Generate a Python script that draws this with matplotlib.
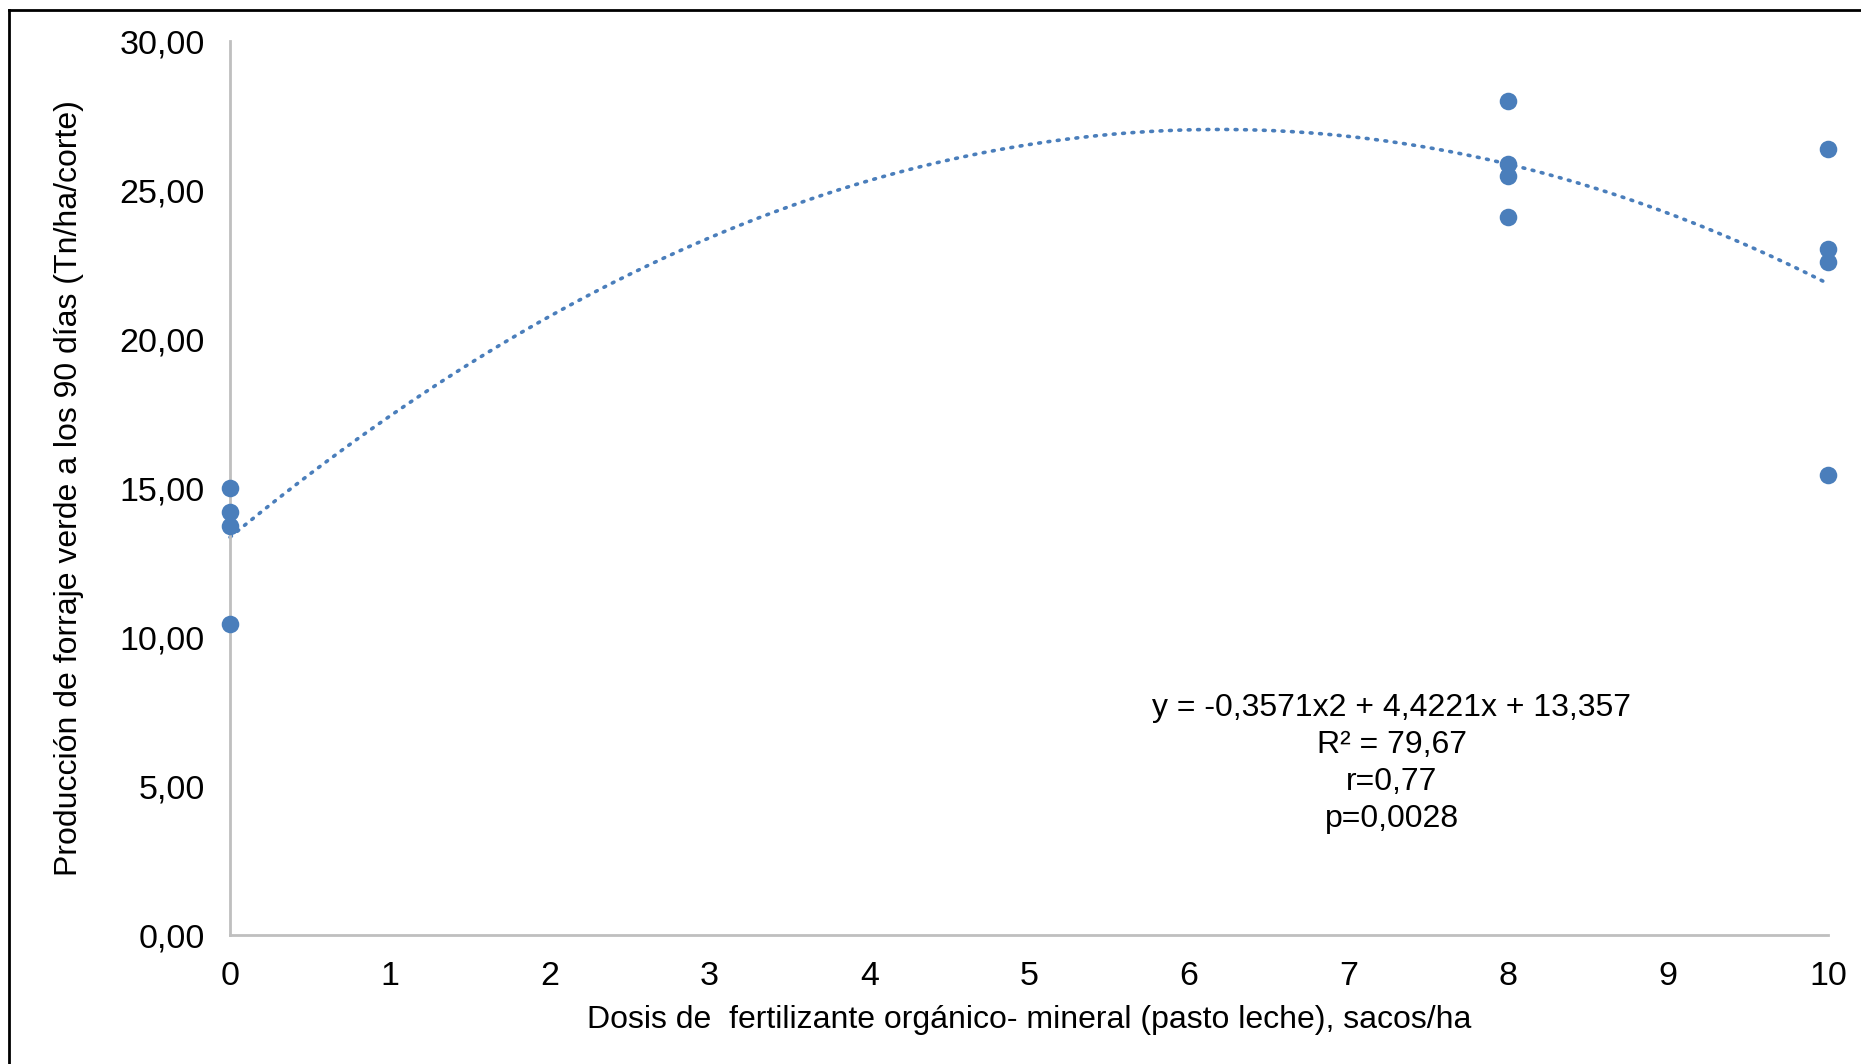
import numpy as np
import matplotlib.pyplot as plt
from matplotlib.lines import Line2D
from matplotlib.ticker import FuncFormatter

plt.rcParams['font.family'] = ['Liberation Sans', 'DejaVu Sans']

# Observed yields per dose (sacos/ha)
dosis = [0, 0, 0, 0, 8, 8, 8, 8, 10, 10, 10, 10]
produccion = [15.00, 14.20, 13.75, 10.45, 28.00, 25.90, 25.50, 24.10, 26.38, 23.05, 22.60, 15.45]

# Quadratic fit reported for the trial
coef = [-0.3571, 4.4221, 13.357]
stats_text = ["y = -0,3571x2 + 4,4221x + 13,357", "R² = 79,67", "r=0,77", "p=0,0028"]

blue = '#4a7ebb'
grey = '#bfbfbf'

fig = plt.figure(figsize=(18.61, 10.64), dpi=100)
ax = fig.add_axes([0.1236, 0.1212, 0.8587, 0.8398])

ax.scatter(dosis, produccion, s=160, color=blue, zorder=3, linewidths=0, clip_on=False)

xf = np.linspace(0, 10, 200)
yf = np.polyval(coef, xf)
ax.plot(xf, yf, color=blue, linewidth=2.6, linestyle=(0, (0.5, 2.1)),
        dash_capstyle='round', zorder=2, clip_on=False)

ax.set_xlim(0, 10)
ax.set_ylim(0, 30)
ax.set_xticks(range(0, 11))
ax.set_yticks(np.arange(0, 31, 5))
ax.yaxis.set_major_formatter(FuncFormatter(lambda v, p: f"{v:.2f}".replace('.', ',')))
ax.tick_params(length=0, labelsize=24.5, colors='black')
ax.tick_params(axis='y', pad=18)
ax.tick_params(axis='x', pad=19)

for side in ['top', 'right']:
    ax.spines[side].set_visible(False)
for side in ['left', 'bottom']:
    ax.spines[side].set_color(grey)
    ax.spines[side].set_linewidth(2)

ax.set_xlabel("Dosis de  fertilizante orgánico- mineral (pasto leche), sacos/ha",
              fontsize=23, labelpad=9)
ax.set_ylabel("Producción de forraje verde a los 90 días (Tn/ha/corte)",
              fontsize=23, labelpad=26)

ax.text(7.27, 5.75, "\n".join(stats_text), ha='center', va='center',
        fontsize=23, linespacing=1.3)

# outer frame (left and top edges)
fig.add_artist(Line2D([0.0048, 0.0048], [0, 0.9905], transform=fig.transFigure,
                      color='black', linewidth=2))
fig.add_artist(Line2D([0.0048, 1], [0.9905, 0.9905], transform=fig.transFigure,
                      color='black', linewidth=2))

fig.savefig("out.png", dpi=100, facecolor='white')
